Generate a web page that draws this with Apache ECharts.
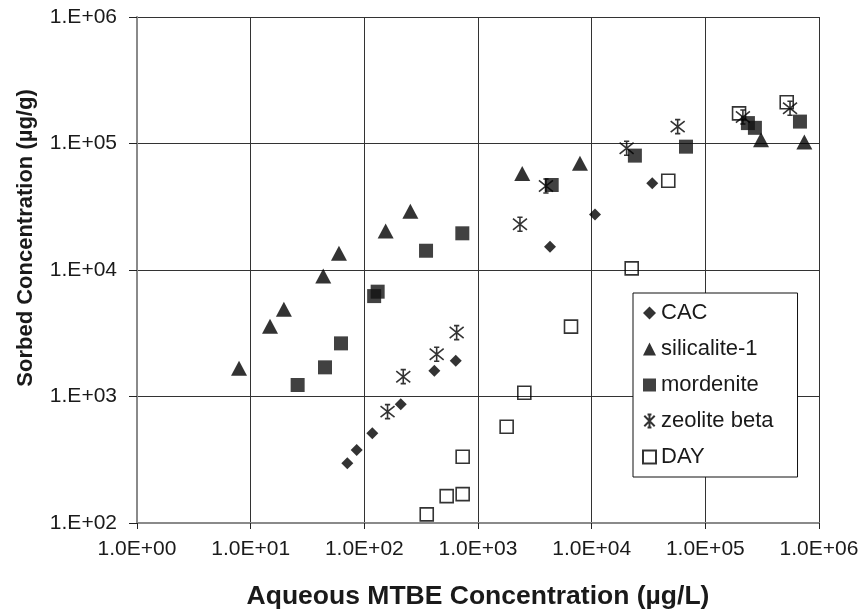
<!DOCTYPE html>
<html>
<head>
<meta charset="utf-8">
<script src="https://cdn.jsdelivr.net/npm/echarts@6/dist/echarts.min.js"></script>
<style>
html,body{margin:0;padding:0;background:#fff;}
#chart{width:866px;height:613px;}
</style>
</head>
<body>
<div id="chart"></div>
<script>
// ---- data ----
const seriesNames = ['CAC', 'silicalite-1', 'mordenite', 'zeolite beta', 'DAY'];

const cacX = [70.8, 85.7, 117.5, 209, 413, 637, 4300, 10700, 34100];
const cacY = [297, 377, 512, 867, 1600, 1920, 15300, 27500, 48400];

const silX = [7.9, 14.8, 19.6, 43.5, 59.8, 154, 254, 2450, 7890, 309000, 743000];
const silY = [1670, 3600, 4890, 8970, 13560, 20300, 29200, 58000, 69700, 107000, 103000];

const morX = [25.9, 45.1, 62.3, 122, 131, 349, 728, 4450, 24000, 67600, 237000, 273000, 680000];
const morY = [1233, 1700, 2630, 6220, 6740, 14200, 19500, 47000, 80200, 94400, 145000, 133000, 149000];

const zeoX = [160, 220, 433, 649, 2340, 3960, 20300, 57100, 214000, 556000];
const zeoY = [759, 1435, 2160, 3200, 23000, 46100, 91600, 136000, 162000, 190000];

const dayX = [354, 530, 733, 733, 1787, 2555, 6580, 22500, 47200, 198000, 520000];
const dayY = [117, 163, 169, 334, 577, 1072, 3565, 10300, 50800, 173000, 212000];

const xTickLabels = ['1.0E+00', '1.0E+01', '1.0E+02', '1.0E+03', '1.0E+04', '1.0E+05', '1.0E+06'];
const yTickLabels = ['1.E+02', '1.E+03', '1.E+04', '1.E+05', '1.E+06'];

const xTitle = 'Aqueous MTBE Concentration (µg/L)';
const yTitle = 'Sorbed Concentration (µg/g)';

// ---- build ----
function pairs(xs, ys) { return xs.map((x, i) => [x, ys[i]]); }

const starPath = 'path://M1,1 L9,9 M9,1 L1,9 M5,0 L5,10 M3.5,0 L6.5,0 M3.5,10 L6.5,10';
const FONT = 'Liberation Sans, Arial, sans-serif';

const chart = echarts.init(document.getElementById('chart'), null, { renderer: 'canvas' });

const option = {
  animation: false,
  backgroundColor: '#fff',
  grid: { left: 137, right: 47, top: 17, bottom: 90, show: false, containLabel: false, outerBoundsMode: 'none' },
  graphic: [{
    type: 'text',
    x: 26, y: 238,
    rotation: Math.PI / 2,
    style: {
      text: yTitle, fontFamily: FONT, fontWeight: 'bold', fontSize: 22, fill: '#1a1a1a',
      align: 'center', verticalAlign: 'middle'
    }
  }],
  xAxis: {
    type: 'log', logBase: 10, min: 1, max: 1e6,
    name: xTitle, nameLocation: 'middle', nameGap: 60,
    nameTextStyle: { fontFamily: FONT, fontWeight: 'bold', fontSize: 26.5, color: '#1a1a1a' },
    axisLine: { show: true, lineStyle: { color: '#8a8a8a', width: 2 } },
    axisTick: { show: true, length: 6, lineStyle: { color: '#222', width: 1 } },
    minorTick: { show: false },
    splitLine: { show: true, lineStyle: { color: '#333', width: 1 } },
    axisLabel: {
      margin: 16, fontFamily: FONT, fontSize: 21, color: '#1a1a1a',
      formatter: v => xTickLabels[Math.round(Math.log10(v))]
    }
  },
  yAxis: {
    type: 'log', logBase: 10, min: 100, max: 1e6,
    axisLine: { show: true, lineStyle: { color: '#8a8a8a', width: 2 } },
    axisTick: { show: true, length: 8, lineStyle: { color: '#222', width: 1 } },
    minorTick: { show: false },
    splitLine: { show: true, lineStyle: { color: '#333', width: 1 } },
    axisLabel: {
      margin: 20, fontFamily: FONT, fontSize: 21, color: '#1a1a1a',
      formatter: v => yTickLabels[Math.round(Math.log10(v)) - 2]
    }
  },
  legend: {
    orient: 'vertical', left: 633, top: 293,
    padding: [9, 24, 9, 9],
    itemGap: 14, itemWidth: 13, itemHeight: 13, itemTextGap: 5,
    backgroundColor: '#fff', borderColor: '#111', borderWidth: 1,
    textStyle: { fontFamily: FONT, fontSize: 22, color: '#1a1a1a', lineHeight: 22 },
    data: [
      { name: seriesNames[0], icon: 'diamond' },
      { name: seriesNames[1], icon: 'triangle' },
      { name: seriesNames[2], icon: 'rect' },
      { name: seriesNames[3], icon: starPath },
      { name: seriesNames[4], icon: 'rect' }
    ]
  },
  series: [
    {
      name: seriesNames[0], type: 'scatter', data: pairs(cacX, cacY),
      symbol: 'diamond', symbolSize: 12,
      itemStyle: { color: '#000' }
    },
    {
      name: seriesNames[1], type: 'scatter', data: pairs(silX, silY),
      symbol: 'triangle', symbolSize: [16, 15],
      itemStyle: { color: '#000' }
    },
    {
      name: seriesNames[2], type: 'scatter', data: pairs(morX, morY),
      symbol: 'rect', symbolSize: 14,
      itemStyle: { color: '#111' }
    },
    {
      name: seriesNames[3], type: 'scatter', data: pairs(zeoX, zeoY),
      symbol: starPath, symbolSize: 14,
      itemStyle: { color: 'rgba(0,0,0,0)', borderColor: '#000', borderWidth: 1.6 }
    },
    {
      name: seriesNames[4], type: 'scatter', data: pairs(dayX, dayY),
      symbol: 'rect', symbolSize: 13,
      itemStyle: { color: 'rgba(255,255,255,0)', borderColor: '#000', borderWidth: 1.6 }
    }
  ]
};

chart.setOption(option);
</script>
</body>
</html>
